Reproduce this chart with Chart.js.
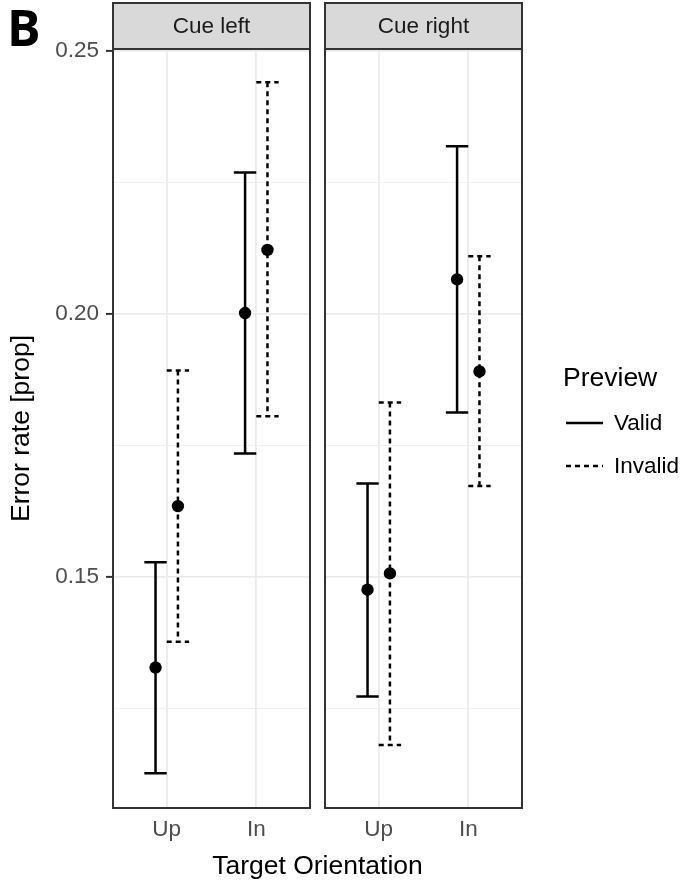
<!DOCTYPE html>
<html>
<head>
<meta charset="utf-8">
<script src="https://cdn.jsdelivr.net/npm/chart.js@4.4.1/dist/chart.umd.min.js"></script>
<style>
  html, body { margin: 0; padding: 0; background: #fff; }
  #wrap { position: relative; width: 684px; height: 881px; overflow: hidden; font-family: "Liberation Sans", Arial, sans-serif; }
  canvas { position: absolute; top: 0; }
  #leftPanel { left: 0; }
  #rightPanel { left: 318px; }
  .txt { position: absolute; white-space: nowrap; line-height: 1; }
  #tag { left: 7px; top: 2px; font-family: "Open Sans", sans-serif; font-weight: 700; font-size: 50px; color: #000; }
  #xTitle { left: 0; width: 635px; text-align: center; top: 852px; font-size: 26.5px; color: #000; }
  #legendTitle { left: 563px; top: 364px; font-size: 26.5px; color: #000; }
  .key { position: absolute; left: 566px; }
  .keyLabel { left: 614px; font-size: 22.5px; color: #000; }
</style>
</head>
<body>
<div id="wrap">
  <canvas id="leftPanel" width="320" height="881"></canvas>
  <canvas id="rightPanel" width="366" height="881"></canvas>
  <div id="tag" class="txt">B</div>
  <div id="xTitle" class="txt">Target Orientation</div>
  <div id="legendTitle" class="txt">Preview</div>
  <svg class="key" style="top:420px" width="38" height="6"><line x1="0" y1="3" x2="37" y2="3" stroke="#000" stroke-width="2.5"/></svg>
  <div class="txt keyLabel" style="top:412px">Valid</div>
  <svg class="key" style="top:463px" width="38" height="6"><line x1="0" y1="3" x2="37" y2="3" stroke="#000" stroke-width="2.5" stroke-dasharray="5 4"/></svg>
  <div class="txt keyLabel" style="top:455px">Invalid</div>
</div>
<script>
const orientations = ["Up", "In"];
const cues = ["Cue left", "Cue right"];

// Cue left
const leftValidMean = [0.1327, 0.2001];
const leftValidLow = [0.1126, 0.1734];
const leftValidHigh = [0.1527, 0.2268];
const leftInvalidMean = [0.1634, 0.2121];
const leftInvalidLow = [0.1376, 0.1805];
const leftInvalidHigh = [0.1892, 0.2440];

// Cue right
const rightValidMean = [0.1475, 0.2065];
const rightValidLow = [0.1272, 0.1812];
const rightValidHigh = [0.1677, 0.2318];
const rightInvalidMean = [0.1506, 0.1890];
const rightInvalidLow = [0.1180, 0.1672];
const rightInvalidHigh = [0.1831, 0.2109];

const yTicks = [0.15, 0.20, 0.25];
const yMinorTicks = [0.125, 0.175, 0.225];

const FONT = "'Liberation Sans', Arial, sans-serif";
const dodge = 0.125;
const capHalf = 0.125;

const isMajor = v => yTicks.some(t => Math.abs(t - v) < 1e-9);

const facetPlugin = {
  id: "facet",
  beforeDatasetsDraw(chart) {
    const { ctx, scales: { x, y } } = chart;
    chart.data.datasets.forEach(ds => {
      ctx.save();
      ctx.strokeStyle = "#000";
      ctx.lineWidth = 2.5;
      ctx.setLineDash(ds.dash);
      ds.data.forEach((p, i) => {
        const px = x.getPixelForValue(p.x);
        const hw = x.getPixelForValue(p.x + capHalf) - px;
        const hi = y.getPixelForValue(ds.high[i]);
        const lo = y.getPixelForValue(ds.low[i]);
        ctx.beginPath();
        ctx.moveTo(px - hw, hi); ctx.lineTo(px + hw, hi);
        ctx.moveTo(px, hi); ctx.lineTo(px, lo);
        ctx.moveTo(px - hw, lo); ctx.lineTo(px + hw, lo);
        ctx.stroke();
      });
      ctx.restore();
    });
  },
  afterDraw(chart, args, opts) {
    const { ctx, chartArea: a } = chart;
    ctx.save();
    ctx.strokeStyle = "#333";
    ctx.lineWidth = 2;
    ctx.strokeRect(a.left, a.top, a.right - a.left, a.bottom - a.top);
    // strip
    ctx.fillStyle = "#D9D9D9";
    ctx.fillRect(a.left, 3, a.right - a.left, a.top - 3);
    ctx.strokeRect(a.left, 3, a.right - a.left, a.top - 3);
    ctx.fillStyle = "#1A1A1A";
    ctx.font = "22.5px " + FONT;
    ctx.textAlign = "center";
    ctx.textBaseline = "middle";
    ctx.fillText(opts.label, (a.left + a.right) / 2, (a.top + 3) / 2 + 1);
    ctx.restore();
  }
};

function makeDatasets(vMean, vLow, vHigh, iMean, iLow, iHigh) {
  const pts = (arr, off) => arr.map((v, i) => ({ x: i + 1 + off, y: v }));
  return [
    { label: "Valid", data: pts(vMean, -dodge), low: vLow, high: vHigh, dash: [],
      pointRadius: 6.2, backgroundColor: "#000", borderWidth: 0, showLine: false },
    { label: "Invalid", data: pts(iMean, dodge), low: iLow, high: iHigh, dash: [5, 4],
      pointRadius: 6.2, backgroundColor: "#000", borderWidth: 0, showLine: false }
  ];
}

function makePanel(canvasId, cue, datasets, first) {
  return new Chart(document.getElementById(canvasId), {
    type: "scatter",
    data: { datasets },
    plugins: [facetPlugin],
    options: {
      responsive: false,
      animation: false,
      events: [],
      layout: { padding: first ? { top: 49, right: 10, left: 0, bottom: 0 } : { top: 49, right: 162, left: 7, bottom: 0 } },
      plugins: {
        legend: { display: false },
        tooltip: { enabled: false },
        facet: { label: cue }
      },
      scales: {
        x: {
          type: "linear",
          min: 0.4,
          max: 2.6,
          afterBuildTicks: s => { s.ticks = orientations.map((_, i) => ({ value: i + 1 })); },
          afterFit: s => { s.height = 73; },
          border: { display: false },
          grid: { color: "#EBEBEB", lineWidth: 1.8, drawTicks: false },
          ticks: {
            padding: 8,
            color: "#4D4D4D",
            font: { family: FONT, size: 22.5 },
            callback: v => orientations[Math.round(v) - 1]
          }
        },
        y: {
          min: 0.106,
          max: 0.2503,
          afterBuildTicks: s => {
            s.ticks = yMinorTicks.concat(yTicks).sort((a, b) => a - b).map(v => ({ value: v }));
          },
          afterFit: s => { s.width = first ? 113 : 0; },
          border: { display: false },
          grid: {
            color: c => isMajor(c.tick.value) ? "#EBEBEB" : "#F0F0F0",
            lineWidth: c => isMajor(c.tick.value) ? 1.8 : 1,
            drawTicks: first,
            tickLength: 7,
            tickWidth: 2,
            tickColor: c => isMajor(c.tick.value) ? "#333" : "rgba(0,0,0,0)"
          },
          ticks: {
            display: first,
            padding: 7,
            color: "#4D4D4D",
            font: { family: FONT, size: 22.5 },
            callback: v => isMajor(v) ? v.toFixed(2) : ""
          },
          title: {
            display: first,
            text: "Error rate [prop]",
            color: "#000",
            font: { family: FONT, size: 26.5 },
            padding: { top: 6, bottom: 0 }
          }
        }
      }
    }
  });
}

makePanel("leftPanel", cues[0],
  makeDatasets(leftValidMean, leftValidLow, leftValidHigh, leftInvalidMean, leftInvalidLow, leftInvalidHigh), true);
makePanel("rightPanel", cues[1],
  makeDatasets(rightValidMean, rightValidLow, rightValidHigh, rightInvalidMean, rightInvalidLow, rightInvalidHigh), false);
</script>
</body>
</html>
